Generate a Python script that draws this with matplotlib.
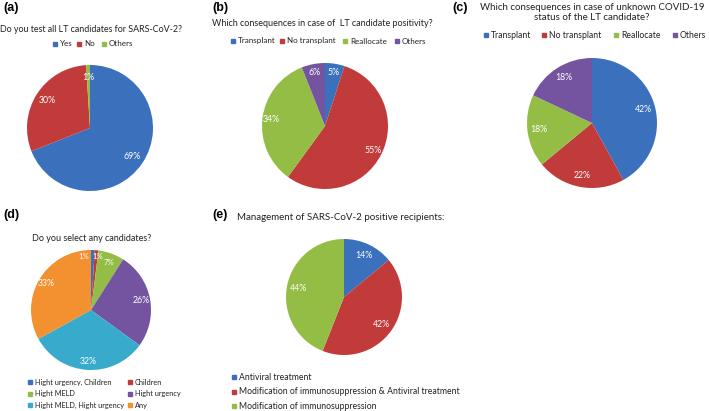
import matplotlib
matplotlib.use("Agg")
import matplotlib.pyplot as plt
from matplotlib.patches import Rectangle

W, H = 709, 411

# colours (Excel 2010 style)
BLUE = "#3A70BC"
RED = "#C23B3B"
GREEN = "#94BD45"
PURPLE = "#7454A0"
CYAN = "#38AACB"
ORANGE = "#F3902F"

# (a)
a_labels = ["Yes", "No", "Others"]
a_values = [69, 30, 1]
# (b)
b_labels = ["Transplant", "No transplant", "Reallocate", "Others"]
b_values = [5, 55, 34, 6]
# (c)
c_labels = ["Transplant", "No transplant", "Reallocate", "Others"]
c_values = [42, 22, 18, 18]
# (d)
d_labels = ["Hight urgency, Children", "Children", "Hight MELD",
            "Hight urgency", "Hight MELD, Hight urgency", "Any"]
d_values = [1, 1, 7, 26, 32, 33]
# (e)
e_labels = ["Antiviral treatment",
            "Modification of immunosuppression & Antiviral treatment",
            "Modification of immunosuppression"]
e_values = [14, 42, 44]

FONT = ["Lato", "DejaVu Sans"]
TXT = "#222222"

fig = plt.figure(figsize=(W / 100, H / 100), dpi=100)
fig.patch.set_facecolor("white")


def px(x, y):
    return x / W, 1 - y / H


def text(x, y, s, size=6.8, **kw):
    kw.setdefault("color", TXT)
    kw.setdefault("family", FONT)
    fig.text(*px(x, y), s, fontsize=size, va="center", **kw)


def pie(cx, cy, r, values, colors, pctdist=0.8):
    ax = fig.add_axes([(cx - r) / W, 1 - (cy + r) / H, 2 * r / W, 2 * r / H])
    _, _, pcts = ax.pie(values, colors=colors, startangle=90,
                        counterclock=False, autopct="%d%%",
                        pctdistance=pctdist, radius=1,
                        textprops=dict(color="white", fontsize=6.3,
                                       family=FONT))
    ax.set_xlim(-1, 1)
    ax.set_ylim(-1, 1)
    ax.set_aspect("auto")
    ax.axis("off")
    return ax, pcts


def legend_item(x, y, label, color, size=5.8):
    s = 4
    fig.patches.append(Rectangle(((x) / W, 1 - (y + s / 2) / H), s / W, s / H,
                                 color=color, transform=fig.transFigure,
                                 figure=fig))
    text(x + s + 3, y, label, size=size)


def panel_tag(x, y, tag):
    fig.text(*px(x, y), tag, fontsize=9, fontweight="bold", va="center",
             family=["Liberation Sans", "DejaVu Sans"], color="black")


# ---- (a)
panel_tag(3, 8, "(a)")
text(0, 29, "Do you test all LT candidates for SARS-CoV-2?", size=6.4)
pie(90, 128, 63, a_values, [BLUE, RED, GREEN], 0.8)
for lab, col, x in zip(a_labels, [BLUE, RED, GREEN], [53, 77, 102]):
    legend_item(x, 44, lab, col)

# ---- (b)
panel_tag(212, 8, "(b)")
text(212, 24, "Which consequences in case of  LT candidate positivity?",
     size=6.5)
pie(325, 126, 63, b_values, [BLUE, RED, GREEN, PURPLE], 0.86)
for lab, col, x in zip(b_labels, [BLUE, RED, GREEN, PURPLE],
                       [231, 280, 343, 395]):
    legend_item(x, 41, lab, col)

# ---- (c)
panel_tag(452, 8, "(c)")
text(592, 7, "Which consequences in case of unknown COVID-19", size=7.0,
     ha="center")
text(592, 18, "status of the LT candidate?", size=7.0, ha="center")
pie(592, 123, 65, c_values, [BLUE, RED, GREEN, PURPLE], 0.82)
for lab, col, x in zip(c_labels, [BLUE, RED, GREEN, PURPLE],
                       [484, 542, 614, 673]):
    legend_item(x, 35, lab, col, size=6.2)

# ---- (d)
panel_tag(3, 215, "(d)")
text(32, 238, "Do you select any candidates?", size=6.5)
d_colors = [BLUE, RED, GREEN, PURPLE, CYAN, ORANGE]
ax_d, d_pcts = pie(91, 310, 60, d_values, d_colors, 0.86)
# nudge the two tiny 1% labels apart, as in the original
d_pcts[0].set_position((-0.12, 0.89))
d_pcts[1].set_position((0.12, 0.89))
d_pcts[2].set_position((0.3, 0.79))
for t in d_pcts[:3]:
    t.set_fontsize(5.6)
for i, (lab, col) in enumerate(zip(d_labels, d_colors)):
    legend_item(28 + 100 * (i % 2), 382 + 11.5 * (i // 2), lab, col,
                size=5.3)

# ---- (e)
panel_tag(212, 215, "(e)")
text(237, 217, "Management of SARS-CoV-2 positive recipients:", size=7.0)
pie(344, 297, 58, e_values, [BLUE, RED, GREEN], 0.8)
for i, (lab, col) in enumerate(zip(e_labels, [BLUE, RED, GREEN])):
    legend_item(232, 377 + 14.5 * i, lab, col, size=6.2)

fig.savefig("out.png", dpi=100)
